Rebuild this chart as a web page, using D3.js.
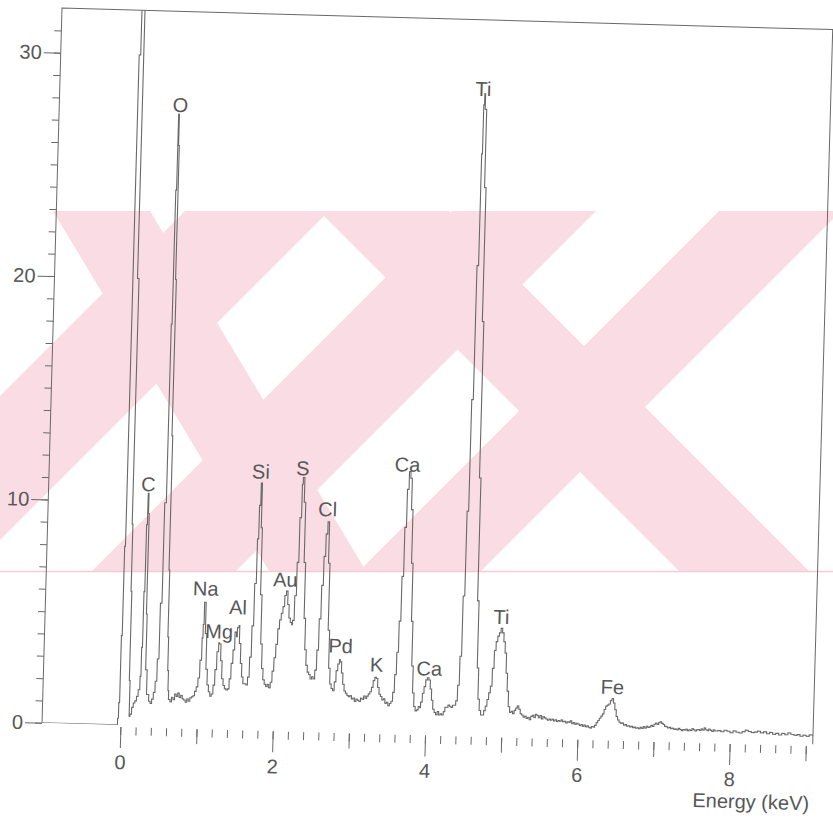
<!DOCTYPE html>
<html>
<head>
<meta charset="utf-8">
<script src="https://cdn.jsdelivr.net/npm/d3@7"></script>
<style>
  body { margin: 0; background: #fff; }
  text { font-family: "Liberation Sans", Arial, sans-serif; fill: #575757; }
</style>
</head>
<body>
<div id="chart"></div>
<script>
// EDS spectrum: [energy keV, counts (axis units)]
const spectrum = [
  [-1.03, 0], [-0.05, 0], [-0.04, 0.3], [-0.03, 1], [-0.02, 4], [-0.01, 8], [0.00, 30], [0.02, 50], [0.04, 48],
  [0.05, 34], [0.06, 20], [0.08, 9], [0.09, 6], [0.10, 2], [0.11, 0.4], [0.12, 0.5], [0.14, 0.8], [0.16, 1.0],
  [0.18, 1.1], [0.20, 1.3], [0.22, 1.6], [0.24, 2.2], [0.25, 3.5], [0.26, 6], [0.27, 9], [0.28, 10.4], [0.29, 9.5],
  [0.30, 5], [0.31, 2.5], [0.33, 1.4], [0.36, 1.1], [0.38, 1.0], [0.40, 1.2], [0.42, 1.5], [0.44, 2.0], [0.46, 3.0],
  [0.48, 5.5], [0.50, 10], [0.52, 18], [0.53, 24], [0.54, 27.4], [0.55, 26], [0.56, 20], [0.57, 13], [0.58, 7],
  [0.59, 4], [0.60, 2.5], [0.61, 1.6], [0.62, 1.2], [0.64, 1.1], [0.66, 1.3], [0.68, 1.2], [0.70, 1.45], [0.72, 1.35],
  [0.74, 1.5], [0.76, 1.3], [0.78, 1.4], [0.80, 1.25], [0.82, 1.2], [0.84, 1.1], [0.86, 1.25], [0.88, 1.15], [0.90, 1.3],
  [0.92, 1.35], [0.94, 1.4], [0.96, 1.6], [0.98, 1.8], [1.00, 2.2], [1.02, 3.0], [1.04, 4.0], [1.05, 4.6], [1.06, 5.6],
  [1.07, 5.6], [1.08, 4.2], [1.10, 2.6], [1.12, 1.9], [1.14, 1.6], [1.16, 1.4], [1.18, 1.5], [1.20, 1.9], [1.22, 2.6],
  [1.24, 3.4], [1.26, 3.8], [1.27, 3.75], [1.29, 3.0], [1.31, 2.2], [1.33, 1.9], [1.35, 1.75], [1.37, 1.7], [1.39, 1.75],
  [1.41, 2.2], [1.43, 2.9], [1.45, 3.5], [1.47, 4.3], [1.49, 4.1], [1.50, 4.5], [1.52, 4.6], [1.53, 3.8], [1.55, 2.9],
  [1.57, 2.3], [1.59, 2.0], [1.61, 2.0], [1.63, 1.95], [1.65, 2.3], [1.67, 3.2], [1.69, 4.6], [1.71, 6.5], [1.73, 8.5],
  [1.745, 10.0], [1.76, 11.0], [1.775, 9.0], [1.79, 6.0], [1.81, 3.8], [1.83, 2.7], [1.85, 2.2], [1.87, 2.0], [1.89, 1.9],
  [1.91, 2.0], [1.93, 1.85], [1.95, 2.1], [1.97, 2.6], [1.99, 3.2], [2.01, 3.8], [2.03, 4.5], [2.05, 4.9], [2.07, 5.2],
  [2.09, 5.5], [2.11, 6.0], [2.13, 6.2], [2.15, 5.6], [2.17, 5.0], [2.19, 4.8], [2.21, 4.7], [2.22, 4.9], [2.24, 6.0],
  [2.26, 7.5], [2.28, 9.5], [2.30, 11.0], [2.31, 11.3], [2.33, 10.2], [2.35, 7.5], [2.37, 5.0], [2.39, 3.6], [2.41, 2.9],
  [2.43, 2.6], [2.45, 2.5], [2.47, 2.3], [2.49, 2.4], [2.51, 2.3], [2.53, 2.7], [2.55, 3.6], [2.57, 5.0], [2.59, 6.5],
  [2.61, 7.8], [2.63, 8.8], [2.65, 9.35], [2.67, 7.5], [2.69, 4.5], [2.71, 2.8], [2.73, 2.1], [2.75, 1.9], [2.77, 1.8],
  [2.79, 2.2], [2.81, 2.7], [2.83, 3.0], [2.85, 3.2], [2.86, 3.1], [2.88, 2.6], [2.90, 2.1], [2.92, 1.8], [2.94, 1.7],
  [2.96, 1.6], [2.98, 1.55], [3.00, 1.6], [3.02, 1.45], [3.04, 1.5], [3.06, 1.35], [3.08, 1.45], [3.10, 1.4], [3.12, 1.35],
  [3.14, 1.5], [3.16, 1.45], [3.18, 1.6], [3.20, 1.5], [3.22, 1.6], [3.24, 1.7], [3.26, 1.8], [3.28, 2.0], [3.30, 2.3],
  [3.32, 2.45], [3.34, 2.4], [3.36, 2.0], [3.38, 1.7], [3.40, 1.6], [3.42, 1.45], [3.44, 1.5], [3.46, 1.3], [3.48, 1.35],
  [3.50, 1.2], [3.52, 1.3], [3.54, 1.4], [3.56, 1.8], [3.58, 2.6], [3.60, 3.6], [3.62, 5.0], [3.64, 7.0], [3.66, 9.2],
  [3.68, 10.9], [3.70, 11.7], [3.72, 11.4], [3.74, 10.0], [3.76, 7.6], [3.78, 5.0], [3.80, 3.0], [3.82, 1.8], [3.84, 1.2],
  [3.86, 1.0], [3.88, 1.05], [3.90, 1.2], [3.92, 1.15], [3.93, 1.4], [3.95, 1.8], [3.97, 2.1], [3.99, 2.4], [4.01, 2.5],
  [4.03, 2.4], [4.05, 2.0], [4.07, 1.5], [4.09, 1.1], [4.11, 0.95], [4.13, 0.85], [4.15, 1.0], [4.17, 0.85], [4.19, 0.9],
  [4.21, 0.85], [4.23, 1.0], [4.25, 1.2], [4.27, 1.2], [4.29, 1.3], [4.31, 1.25], [4.33, 1.2], [4.35, 1.3], [4.37, 1.3],
  [4.39, 1.5], [4.41, 2.2], [4.43, 3.5], [4.45, 6.2], [4.47, 10], [4.49, 15], [4.51, 21], [4.53, 26], [4.54, 28.2],
  [4.55, 28.7], [4.56, 28.0], [4.58, 24.5], [4.60, 18.5], [4.62, 11.5], [4.64, 6.0], [4.66, 3.0], [4.68, 1.6], [4.70, 1.1],
  [4.72, 0.9], [4.74, 0.9], [4.76, 1.1], [4.78, 1.3], [4.80, 1.6], [4.82, 1.9], [4.84, 2.2], [4.86, 3.0], [4.88, 3.8],
  [4.90, 4.2], [4.92, 4.45], [4.94, 4.6], [4.96, 4.8], [4.98, 4.6], [5.00, 4.2], [5.02, 3.7], [5.04, 2.8], [5.06, 2.0],
  [5.08, 1.3], [5.10, 1.05], [5.12, 1.1], [5.14, 1.0], [5.16, 1.15], [5.18, 1.25], [5.20, 1.35], [5.22, 1.2], [5.24, 1.0],
  [5.26, 0.95], [5.28, 0.85], [5.30, 0.9], [5.32, 0.8], [5.34, 0.85], [5.36, 0.75], [5.38, 0.9], [5.40, 0.95], [5.42, 0.85],
  [5.44, 1.0], [5.46, 0.95], [5.48, 0.85], [5.50, 0.95], [5.52, 0.8], [5.54, 0.9], [5.56, 0.85], [5.58, 0.8], [5.60, 0.75],
  [5.62, 0.8], [5.64, 0.75], [5.66, 0.8], [5.68, 0.72], [5.70, 0.78], [5.72, 0.7], [5.74, 0.75], [5.76, 0.72], [5.78, 0.78],
  [5.80, 0.7], [5.82, 0.72], [5.84, 0.65], [5.86, 0.7], [5.88, 0.68], [5.90, 0.75], [5.92, 0.62], [5.94, 0.68], [5.96, 0.6],
  [5.98, 0.65], [6.00, 0.62], [6.02, 0.55], [6.04, 0.6], [6.06, 0.52], [6.08, 0.58], [6.10, 0.5], [6.12, 0.55], [6.14, 0.48],
  [6.16, 0.45], [6.18, 0.52], [6.20, 0.5], [6.22, 0.58], [6.24, 0.7], [6.26, 0.8], [6.28, 0.9], [6.30, 1.0], [6.32, 1.1],
  [6.34, 1.3], [6.36, 1.45], [6.38, 1.5], [6.40, 1.55], [6.42, 1.7], [6.44, 1.8], [6.46, 1.6], [6.48, 1.3], [6.50, 1.0],
  [6.52, 0.85], [6.54, 0.75], [6.56, 0.7], [6.58, 0.72], [6.60, 0.62], [6.62, 0.65], [6.64, 0.58], [6.66, 0.6], [6.68, 0.55],
  [6.70, 0.58], [6.72, 0.52], [6.74, 0.55], [6.76, 0.5], [6.78, 0.52], [6.80, 0.48], [6.82, 0.55], [6.84, 0.5], [6.86, 0.58],
  [6.88, 0.52], [6.90, 0.6], [6.92, 0.55], [6.94, 0.58], [6.96, 0.65], [6.98, 0.6], [7.00, 0.7], [7.02, 0.75], [7.04, 0.7],
  [7.06, 0.78], [7.08, 0.82], [7.10, 0.75], [7.12, 0.7], [7.14, 0.62], [7.16, 0.6], [7.18, 0.55], [7.20, 0.58], [7.22, 0.52],
  [7.24, 0.55], [7.26, 0.5], [7.28, 0.52], [7.30, 0.48], [7.32, 0.55], [7.34, 0.5], [7.36, 0.45], [7.38, 0.5], [7.40, 0.48],
  [7.42, 0.52], [7.44, 0.45], [7.46, 0.5], [7.48, 0.47], [7.50, 0.55], [7.52, 0.5], [7.54, 0.45], [7.56, 0.5], [7.58, 0.52],
  [7.60, 0.48], [7.62, 0.55], [7.64, 0.5], [7.66, 0.6], [7.68, 0.52], [7.70, 0.48], [7.72, 0.55], [7.74, 0.5], [7.76, 0.45],
  [7.78, 0.52], [7.80, 0.48], [7.84, 0.5], [7.88, 0.45], [7.92, 0.52], [7.96, 0.48], [8.00, 0.42], [8.04, 0.5], [8.08, 0.45],
  [8.12, 0.42], [8.16, 0.48], [8.20, 0.55], [8.24, 0.5], [8.28, 0.45], [8.32, 0.48], [8.36, 0.52], [8.40, 0.45], [8.44, 0.5],
  [8.48, 0.42], [8.52, 0.48], [8.56, 0.4], [8.60, 0.45], [8.64, 0.38], [8.68, 0.45], [8.72, 0.4], [8.76, 0.48], [8.80, 0.42],
  [8.84, 0.38], [8.88, 0.42], [8.92, 0.35], [8.96, 0.4], [9.00, 0.35], [9.04, 0.42], [9.09, 0.35]
];

// element labels: energy and the count level of the label baseline
const peakLabels = [
  { name: 'C', e: 0.28, v: 10.5 }, { name: 'O', e: 0.56, v: 27.5 }, { name: 'Na', e: 1.07, v: 5.9 },
  { name: 'Mg', e: 1.26, v: 4.0 }, { name: 'Al', e: 1.50, v: 5.1 }, { name: 'Si', e: 1.75, v: 11.2 },
  { name: 'Au', e: 2.11, v: 6.4 }, { name: 'S', e: 2.30, v: 11.4 }, { name: 'Cl', e: 2.64, v: 9.6 },
  { name: 'Pd', e: 2.86, v: 3.5 }, { name: 'K', e: 3.34, v: 2.7 }, { name: 'Ca', e: 3.67, v: 11.7 },
  { name: 'Ca', e: 4.03, v: 2.6 }, { name: 'Ti', e: 4.53, v: 28.6 }, { name: 'Ti', e: 4.96, v: 5.0 },
  { name: 'Fe', e: 6.44, v: 2.0 }
];

const xLabelTicks = [0, 2, 4, 6, 8];
const xMidTicks = [1, 3, 5, 7, 9];
const yLabelTicks = [0, 10, 20, 30];
const xTitle = 'Energy (keV)';

const width = 833, height = 818;
const margin = { top: 10, right: 20, bottom: 93, left: 42 };
const innerW = width - margin.left - margin.right;
const innerH = height - margin.top - margin.bottom;

const x = d3.scaleLinear().domain([-1.03, 9.09]).range([0, innerW]);
const y = d3.scaleLinear().domain([0, 32]).range([innerH, 0]);

const svg = d3.select('#chart').append('svg')
  .attr('width', width)
  .attr('height', height);

// pink thesis watermark behind the scan: slanted bands inside a horizontal strip
const wmTop = 211, wmBottom = 572, wmH = wmBottom - wmTop;
const wmPink = '#fadde4';
svg.append('clipPath').attr('id', 'wm-clip')
  .append('rect').attr('x', 0).attr('y', wmTop).attr('width', width).attr('height', wmH);
// from/to: band edges on the strip's top line; lean: sideways run per pixel down
const bands = [
  { from: 185, to: 329, lean: -1 }, { from: 452, to: 596, lean: -1 }, { from: 719, to: 841, lean: -1 },
  { from: 53, to: 150, lean: 0.6 }, { from: 319, to: 449, lean: 1 }
];
svg.append('g').attr('clip-path', 'url(#wm-clip)').attr('fill', wmPink)
  .selectAll('path').data(bands).join('path')
  .attr('d', b => `M${b.from},${wmTop}H${b.to}L${b.to + b.lean * wmH},${wmBottom}H${b.from + b.lean * wmH}Z`);
// faint seam under the watermark strip
svg.append('line')
  .attr('x1', 0).attr('x2', width).attr('y1', wmBottom - 0.5).attr('y2', wmBottom - 0.5)
  .attr('stroke', '#f3ccd6').attr('stroke-width', 1.5);

// the print was scanned slightly turned
const ox = margin.left + x(0), oy = margin.top + y(0);
const page = svg.append('g').attr('transform', `rotate(1.6, ${ox}, ${oy})`);
const g = page.append('g').attr('transform', `translate(${margin.left},${margin.top})`);

g.append('clipPath').attr('id', 'plot-clip')
  .append('rect').attr('width', innerW).attr('height', innerH);

const ink = '#686868';

// frame: left, top, right
g.append('path')
  .attr('d', `M0,${innerH}V0H${innerW}V${innerH}`)
  .attr('fill', 'none').attr('stroke', ink).attr('stroke-width', 1);

const line = d3.line().x(d => x(d[0])).y(d => y(d[1])).curve(d3.curveStepAfter);
g.append('path')
  .datum(spectrum)
  .attr('clip-path', 'url(#plot-clip)')
  .attr('d', line)
  .attr('fill', 'none').attr('stroke', ink).attr('stroke-width', 1.1);

// y axis: long ticks with labels, short ticks every unit
const yMinor = g.append('g').call(d3.axisLeft(y).tickValues(d3.range(0, 32, 1)).tickSize(7).tickFormat(''));
const yMajor = g.append('g').call(d3.axisLeft(y).tickValues(yLabelTicks).tickSize(17).tickPadding(2));

// x axis hangs just below the baseline
const xAxisG = g.append('g').attr('transform', `translate(0,${innerH + 2})`);
const xMinor = xAxisG.append('g').call(d3.axisBottom(x).tickValues(d3.range(0, 9.01, 0.2)).tickSize(8).tickFormat(''));
const xMid = xAxisG.append('g').call(d3.axisBottom(x).tickValues(xMidTicks).tickSize(15).tickFormat(''));
const xMajor = xAxisG.append('g').call(d3.axisBottom(x).tickValues(xLabelTicks).tickSize(21).tickPadding(7));

[yMinor, yMajor, xMinor, xMid, xMajor].forEach(a => {
  a.select('.domain').remove();
  a.selectAll('line').attr('stroke', ink);
  a.selectAll('text').attr('font-size', 20).attr('fill', '#575757')
    .style('font-family', '"Liberation Sans", Arial, sans-serif');
});

g.append('text')
  .attr('x', innerW - 2)
  .attr('y', innerH + 66)
  .attr('text-anchor', 'end')
  .attr('font-size', 20)
  .text(xTitle);

g.append('g').selectAll('text')
  .data(peakLabels)
  .join('text')
  .attr('x', d => x(d.e))
  .attr('y', d => y(d.v))
  .attr('text-anchor', 'middle')
  .attr('font-size', 20)
  .text(d => d.name);
</script>
</body>
</html>
